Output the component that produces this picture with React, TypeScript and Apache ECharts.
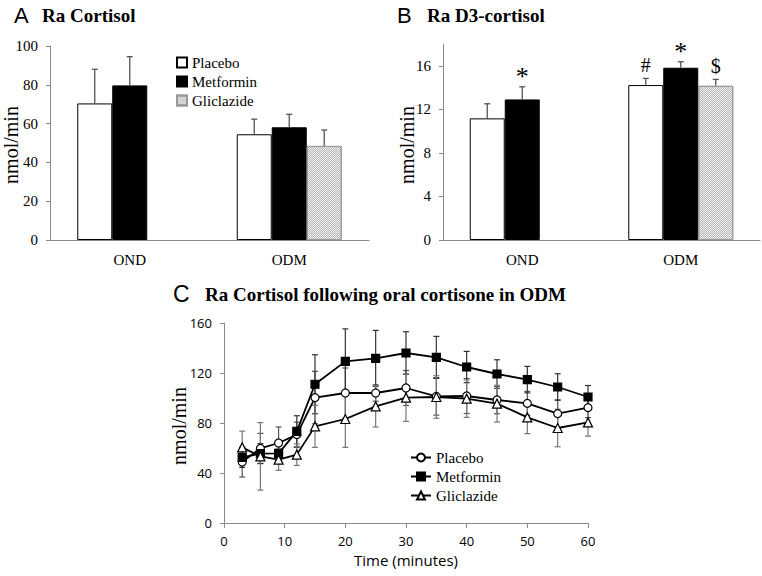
import React, { useEffect, useRef } from "react";
import * as echarts from "echarts";

// ---------- data ----------
const groups = ["OND", "ODM"];
const treatments = ["Placebo", "Metformin", "Gliclazide"];

// Panel A: Ra Cortisol (nmol/min)
const aPlacebo = [70.4, 54.5];
const aPlaceboErr = [17.6, 7.8];
const aMetformin = [79.7, 58.1];
const aMetforminErr = [14.8, 6.7];
const aGliclazide: (number | null)[] = [null, 48.5];
const aGliclazideErr: (number | null)[] = [null, 8.2];
const aTicks = [0, 20, 40, 60, 80, 100];

// Panel B: Ra D3-cortisol (nmol/min)
const bPlacebo = [11.17, 14.23];
const bPlaceboErr = [1.34, 0.61];
const bMetformin = [12.91, 15.82];
const bMetforminErr = [1.16, 0.55];
const bGliclazide: (number | null)[] = [null, 14.16];
const bGliclazideErr: (number | null)[] = [null, 0.59];
const bTicks = [0, 4, 8, 12, 16];
// significance marks: [group, treatment, symbol]
const bMarks: [number, number, string][] = [
  [0, 1, "*"],
  [1, 0, "#"],
  [1, 1, "*"],
  [1, 2, "$"],
];

// Panel C: Ra cortisol following oral cortisone in ODM
const timeMin = [3, 6, 9, 12, 15, 20, 25, 30, 35, 40, 45, 50, 55, 60];
const cPlacebo = [48.8, 59.7, 64, 70.7, 100.3, 104, 104, 108, 101.3, 101.6, 98.4, 95.7, 87.5, 92.3];
const cPlaceboErr = [12, 12, 12.8, 10, 21, 20, 6.6, 14, 15, 14, 11, 9.6, 11, 8];
const cMetformin = [52.5, 55.5, 55.7, 73.3, 111, 129.3, 131.7, 136, 132.5, 124.8, 119.2, 114.7, 108.8, 100.8];
const cMetforminErr = [8, 8, 6, 12.5, 23.6, 26, 22.4, 17, 16.8, 12.5, 11.4, 10.6, 10.6, 9.2];
const cGliclazide = [60.5, 53.3, 50.7, 54.7, 77.3, 83.2, 93.3, 100.3, 100.8, 99.5, 95.5, 84.5, 76, 80.5];
const cGliclazideErr = [13, 27, 8.6, 8.6, 16.8, 22.7, 16.5, 19, 17, 15, 14.7, 13, 15, 11];
const cYTicks = [0, 40, 80, 120, 160];
const cXTicks = [0, 10, 20, 30, 40, 50, 60];

// ---------- styles ----------
const SERIF = "Liberation Serif";
const SANS = "Open Sans";
const AXIS_GRAY = "#8a8a8a";
const BAR_W = 35;

const barStyles = [
  { color: "#ffffff", borderColor: "#000", borderWidth: 1 },
  { color: "#000000", borderColor: "#000", borderWidth: 1 },
  {
    color: "#f2f2f2",
    borderColor: "#9a9a9a",
    borderWidth: 1,
    decal: {
      symbol: "rect",
      symbolSize: 1,
      color: "rgba(0,0,0,0.25)",
      dashArrayX: [[1, 1], [0, 1, 1, 0]],
      dashArrayY: [1, 0],
      rotation: 0,
    },
  },
];

function barErrData(vals: (number | null)[][], errs: (number | null)[][]) {
  const out: any[] = [];
  vals.forEach((arr, s) =>
    arr.forEach((v, g) => {
      const e = errs[s][g];
      if (v != null && e != null) out.push([g, v, v + e, s]);
    })
  );
  return out;
}

function barErrRender(params: any, api: any) {
  const g = api.value(0);
  const v = api.value(1);
  const t = api.value(2);
  const s = api.value(3);
  const off = (s - 1) * BAR_W;
  const p0 = api.coord([g, v]);
  const p1 = api.coord([g, t]);
  const x = p0[0] + off;
  const st = { stroke: "#555", lineWidth: 1.3 };
  return {
    type: "group",
    children: [
      { type: "line", shape: { x1: x, y1: p0[1], x2: x, y2: p1[1] }, style: st },
      { type: "line", shape: { x1: x - 3, y1: p1[1], x2: x + 3, y2: p1[1] }, style: st },
    ],
  };
}

function lineErrRender(color: string) {
  return (params: any, api: any) => {
    const x = api.value(0);
    const v = api.value(1);
    const e = api.value(2);
    const top = api.coord([x, v + e]);
    const bot = api.coord([x, v - e]);
    const st = { stroke: color, lineWidth: 1.2 };
    return {
      type: "group",
      children: [
        { type: "line", shape: { x1: top[0], y1: top[1], x2: bot[0], y2: bot[1] }, style: st },
        { type: "line", shape: { x1: top[0] - 3, y1: top[1], x2: top[0] + 3, y2: top[1] }, style: st },
        { type: "line", shape: { x1: bot[0] - 3, y1: bot[1], x2: bot[0] + 3, y2: bot[1] }, style: st },
      ],
    };
  };
}

const catAxis = (gridIndex: number) => ({
  type: "category",
  gridIndex,
  data: groups,
  axisLine: { lineStyle: { color: AXIS_GRAY, width: 1 } },
  axisTick: { length: 5, lineStyle: { color: AXIS_GRAY } },
  axisLabel: { color: "#000", fontFamily: SERIF, fontSize: 15, margin: 12 },
});

const valAxisCommon = {
  type: "value",
  splitLine: { show: false },
  axisLine: { show: true, lineStyle: { color: AXIS_GRAY, width: 1 } },
  axisTick: { show: true, length: 4, lineStyle: { color: AXIS_GRAY } },
};

const yTitle = (x: number, y: number) => ({
  type: "text",
  x,
  y,
  rotation: Math.PI / 2,
  style: {
    text: "nmol/min",
    fill: "#000",
    font: `20px "${SERIF}"`,
    align: "center",
    verticalAlign: "middle",
  },
});

export default function App() {
  const ref = useRef<HTMLDivElement>(null);

  useEffect(() => {
    if (!ref.current) return;
    const chart = echarts.init(ref.current, undefined, { renderer: "svg" });

    const aVals = [aPlacebo, aMetformin, aGliclazide];
    const aErrs = [aPlaceboErr, aMetforminErr, aGliclazideErr];
    const bVals = [bPlacebo, bMetformin, bGliclazide];
    const bErrs = [bPlaceboErr, bMetforminErr, bGliclazideErr];

    const cSeries = [
      { name: "C·Placebo", vals: cPlacebo, errs: cPlaceboErr, symbol: "circle", size: 8, fill: "#fff", err: "#555" },
      { name: "C·Metformin", vals: cMetformin, errs: cMetforminErr, symbol: "rect", size: 8, fill: "#000", err: "#333" },
      { name: "C·Gliclazide", vals: cGliclazide, errs: cGliclazideErr, symbol: "triangle", size: 9, fill: "#fff", err: "#777" },
    ];

    const series: any[] = [];
    treatments.forEach((name, s) => {
      series.push({
        type: "bar",
        name,
        xAxisIndex: 0,
        yAxisIndex: 0,
        data: aVals[s],
        barWidth: BAR_W,
        barGap: "0%",
        itemStyle: barStyles[s],
        z: 2,
      });
    });
    treatments.forEach((name, s) => {
      series.push({
        type: "bar",
        name,
        xAxisIndex: 1,
        yAxisIndex: 1,
        data: bVals[s],
        barWidth: BAR_W,
        barGap: "0%",
        itemStyle: barStyles[s],
        z: 2,
      });
    });
    series.push({
      type: "custom",
      name: "errA",
      xAxisIndex: 0,
      yAxisIndex: 0,
      data: barErrData(aVals, aErrs),
      renderItem: barErrRender,
      encode: { x: 0, y: 2 },
      z: 3,
    });
    series.push({
      type: "custom",
      name: "errB",
      xAxisIndex: 1,
      yAxisIndex: 1,
      data: barErrData(bVals, bErrs),
      renderItem: barErrRender,
      encode: { x: 0, y: 2 },
      z: 3,
    });
    series.push({
      type: "custom",
      name: "marksB",
      xAxisIndex: 1,
      yAxisIndex: 1,
      data: bMarks.map(([g, s]) => [g, (bVals[s][g] as number) + (bErrs[s][g] as number), s]),
      encode: { x: 0, y: 1 },
      renderItem: (params: any, api: any) => {
        const g = api.value(0);
        const t = api.value(1);
        const s = api.value(2);
        const sym = bMarks[params.dataIndex][2];
        const p = api.coord([g, t]);
        const isStar = sym === "*";
        return {
          type: "text",
          x: p[0] + (s - 1) * BAR_W,
          y: p[1] - (isStar ? 10 : 13),
          style: {
            text: sym,
            fill: "#000",
            font: `${isStar ? 26 : 20}px "${SERIF}"`,
            align: "center",
            verticalAlign: "middle",
          },
        };
      },
      z: 3,
    });
    cSeries.forEach((cs) => {
      series.push({
        type: "custom",
        name: cs.name + "-err",
        xAxisIndex: 2,
        yAxisIndex: 2,
        data: timeMin.map((t, i) => [t, cs.vals[i], cs.errs[i]]),
        encode: { x: 0, y: 1 },
        renderItem: lineErrRender(cs.err),
        z: 1,
      });
    });
    cSeries.forEach((cs) => {
      series.push({
        type: "line",
        name: cs.name,
        xAxisIndex: 2,
        yAxisIndex: 2,
        data: timeMin.map((t, i) => [t, cs.vals[i]]),
        symbol: cs.symbol,
        symbolSize: cs.size,
        showAllSymbol: true,
        lineStyle: { color: "#000", width: 1.8 },
        itemStyle: { color: cs.fill, borderColor: "#000", borderWidth: 1.2 },
        z: 4,
      });
    });

    const serifText = { color: "#000", fontFamily: SERIF };

    const option: any = {
      animation: false,
      backgroundColor: "#fff",
      textStyle: { fontFamily: SERIF, color: "#000" },
      grid: [
        { left: 50, top: 46, width: 319, height: 194 },
        { left: 443, top: 44, width: 317, height: 196 },
        { left: 224, top: 323, width: 364, height: 200 },
      ],
      xAxis: [
        catAxis(0),
        catAxis(1),
        {
          ...valAxisCommon,
          gridIndex: 2,
          min: 0,
          max: 60,
          interval: 10,
          axisTick: { show: true, length: 5, lineStyle: { color: AXIS_GRAY } },
          axisLabel: { color: "#000", fontFamily: SANS, fontSize: 13, margin: 11, customValues: cXTicks },
          name: "Time (minutes)",
          nameLocation: "middle",
          nameGap: 29,
          nameTextStyle: { color: "#000", fontFamily: SANS, fontSize: 15 },
        },
      ],
      yAxis: [
        {
          ...valAxisCommon,
          gridIndex: 0,
          min: 0,
          max: 100,
          interval: 20,
          axisLabel: { color: "#000", fontFamily: SERIF, fontSize: 15, margin: 12, customValues: aTicks },
        },
        {
          ...valAxisCommon,
          gridIndex: 1,
          min: 0,
          max: 18,
          interval: 4,
          axisTick: { show: true, length: 4, lineStyle: { color: AXIS_GRAY }, customValues: bTicks },
          axisLabel: { color: "#000", fontFamily: SERIF, fontSize: 15, margin: 12, customValues: bTicks },
        },
        {
          ...valAxisCommon,
          gridIndex: 2,
          min: 0,
          max: 160,
          interval: 40,
          axisLabel: { color: "#000", fontFamily: SANS, fontSize: 13, margin: 12, customValues: cYTicks },
        },
      ],
      legend: [
        {
          data: treatments,
          orient: "vertical",
          left: 176,
          top: 55,
          icon: "rect",
          itemWidth: 10,
          itemHeight: 10,
          itemGap: 4,
          selectedMode: false,
          padding: 0,
          textStyle: { ...serifText, fontSize: 15, lineHeight: 15 },
        },
        {
          data: cSeries.map((c) => c.name),
          orient: "vertical",
          left: 410,
          top: 450,
          itemWidth: 20,
          itemHeight: 10,
          itemGap: 4,
          selectedMode: false,
          padding: 0,
          formatter: (n: string) => n.split("·")[1],
          textStyle: { ...serifText, fontSize: 15, lineHeight: 15 },
        },
      ],
      graphic: [
        { type: "text", x: 14, y: 15, style: { text: "A", fill: "#000", font: `22px "Liberation Sans"`, verticalAlign: "middle" } },
        { type: "text", x: 42, y: 15, style: { text: "Ra Cortisol", fill: "#000", font: `bold 19px "${SERIF}"`, verticalAlign: "middle" } },
        { type: "text", x: 397, y: 15, style: { text: "B", fill: "#000", font: `22px "Liberation Sans"`, verticalAlign: "middle" } },
        { type: "text", x: 427, y: 15, style: { text: "Ra D3-cortisol", fill: "#000", font: `bold 19px "${SERIF}"`, verticalAlign: "middle" } },
        { type: "text", x: 173, y: 294, style: { text: "C", fill: "#000", font: `23px "Liberation Sans"`, verticalAlign: "middle" } },
        {
          type: "text",
          x: 205,
          y: 294,
          style: { text: "Ra Cortisol following oral cortisone in ODM", fill: "#000", font: `bold 19px "${SERIF}"`, verticalAlign: "middle" },
        },
        yTitle(11, 145),
        yTitle(407, 145),
        yTitle(179, 426),
      ],
      series,
    };

    chart.setOption(option);
    return () => chart.dispose();
  }, []);

  return (
    <div
      ref={ref}
      style={{ position: "absolute", left: 0, top: 0, width: 762, height: 576, background: "#fff" }}
    />
  );
}
